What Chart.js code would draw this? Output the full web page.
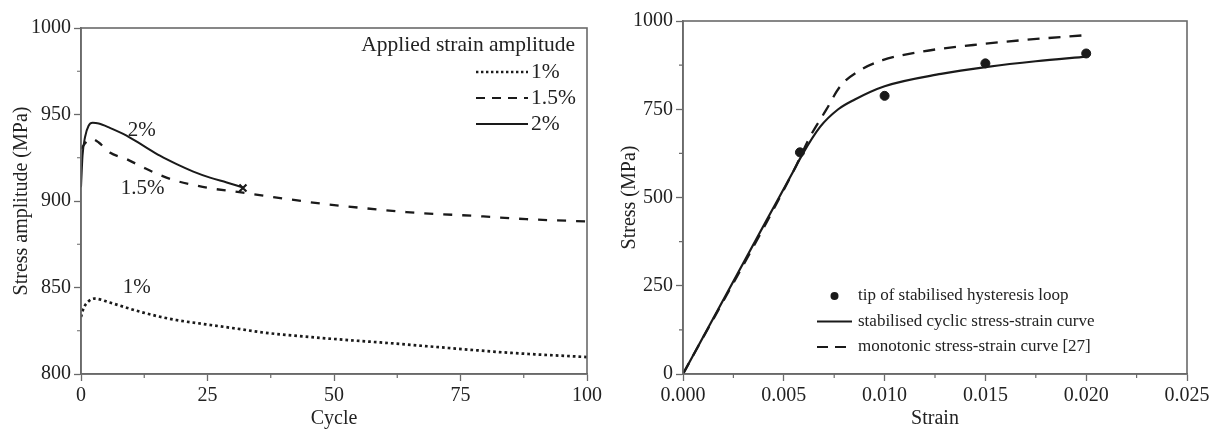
<!DOCTYPE html>
<html>
<head>
<meta charset="utf-8">
<script src="https://cdn.jsdelivr.net/npm/chart.js@4.4.1/dist/chart.umd.min.js"></script>
<style>
  body { margin: 0; background: #fff; }
  canvas { position: absolute; top: 0; }
  #left { left: 0; }
  #right { left: 610px; }
</style>
</head>
<body>
<canvas id="left" width="610" height="433"></canvas>
<canvas id="right" width="607" height="433"></canvas>
<script>
// left panel: stress amplitude vs cycle
const cyc1  = [0, 0.5, 1.5, 2.6, 5.7, 9, 12.3, 15.6, 18.8, 24.7, 30.6, 36.5, 41.8, 49.7, 62, 74, 85, 100];
const amp1  = [833, 838, 842, 843.6, 841.3, 838.3, 835.5, 833.1, 831.2, 828.7, 826.3, 823.8, 822.3, 820.3, 817.6, 814.7, 812.2, 809.8];
const cyc15 = [0, 1, 2, 3.5, 5.7, 9, 12.3, 15.6, 18.9, 22.2, 25.5, 32, 38.7, 48.5, 51.8, 64.3, 79.5, 88, 100];
const amp15 = [930, 934, 936, 933.8, 928, 924.2, 919.4, 915, 911.6, 909.3, 907.4, 904.8, 902, 898.1, 897.1, 893.6, 891.1, 889.5, 888.2];
const cyc2  = [0, 0.3, 0.8, 1.5, 2.3, 3.5, 5.7, 9, 12.3, 15.6, 18.9, 22.2, 25.5, 28.8, 32];
const amp2  = [908, 926, 937, 943.5, 945.2, 944.8, 942.3, 937.8, 932, 926.2, 921.3, 917, 913.5, 910.7, 907.8];
const failCycle = 32, failStress = 907.5;
const cycleMinor  = [12.5, 37.5, 62.5, 87.5];
const ampMinor    = [825, 875, 925, 975];

// right panel: stress vs strain
const strainCyc  = [0, 0.00415, 0.0055, 0.0059, 0.0068, 0.0077, 0.0085, 0.0100, 0.0128, 0.0151, 0.0175, 0.020];
const stressCyc  = [0, 436, 577, 620, 700, 750, 777, 815, 850, 870, 886, 899];
const strainMono = [0, 0.0055, 0.0063, 0.0071, 0.0078, 0.0088, 0.0099, 0.0118, 0.0144, 0.0169, 0.020];
const stressMono = [0, 577, 672, 748, 815, 861, 889, 913, 932, 946, 960];
const strainTip  = [0.0058, 0.010, 0.015, 0.020];
const stressTip  = [628, 788, 880, 908];
const strainMinor = [0.0025, 0.0075, 0.0125, 0.0175, 0.0225];
const stressMinor = [125, 375, 625, 875];

const INK = '#1a1a1a';
const AXIS = '#6a6a6a';
const SERIF = "'Liberation Serif', 'Times New Roman', serif";

Chart.defaults.font.family = SERIF;
Chart.defaults.font.size = 20;
Chart.defaults.color = '#222';

const pts = (xs, ys) => xs.map((x, i) => ({ x, y: ys[i] }));

const frame = {
  id: 'frame',
  afterDraw(chart) {
    const { ctx, chartArea: a } = chart;
    ctx.save();
    ctx.strokeStyle = AXIS;
    ctx.lineWidth = 1.6;
    ctx.strokeRect(a.left, a.top, a.right - a.left, a.bottom - a.top);
    ctx.restore();
  }
};

const minorTicks = {
  id: 'minorTicks',
  afterDraw(chart, args, opts) {
    const { ctx, chartArea: a, scales } = chart;
    ctx.save();
    ctx.strokeStyle = AXIS;
    ctx.lineWidth = 1.2;
    ctx.beginPath();
    (opts.x || []).forEach(v => {
      const px = scales.x.getPixelForValue(v);
      ctx.moveTo(px, a.bottom); ctx.lineTo(px, a.bottom + 4);
    });
    (opts.y || []).forEach(v => {
      const py = scales.y.getPixelForValue(v);
      ctx.moveTo(a.left, py); ctx.lineTo(a.left - 4, py);
    });
    ctx.stroke();
    ctx.restore();
  }
};

// curve labels in data coordinates + hand placed legend
const notes = {
  id: 'notes',
  afterDraw(chart, args, opts) {
    const { ctx, chartArea: a, scales } = chart;
    ctx.save();
    ctx.fillStyle = '#222';
    ctx.textBaseline = 'middle';
    (opts.labels || []).forEach(l => {
      ctx.font = opts.font;
      ctx.textAlign = 'center';
      ctx.fillText(l.text, scales.x.getPixelForValue(l.x), scales.y.getPixelForValue(l.y));
    });
    const lg = opts.legend;
    if (lg) {
      ctx.font = lg.font;
      const x0 = lg.fromRight ? a.right - lg.x : a.left + lg.x;
      const y0 = lg.fromBottom ? a.bottom - lg.y : a.top + lg.y;
      if (lg.title) {
        ctx.textAlign = 'right';
        ctx.fillText(lg.title, a.right - lg.titleRight, a.top + lg.titleY);
      }
      lg.items.forEach((it, i) => {
        const y = y0 + i * lg.gap;
        ctx.strokeStyle = INK;
        ctx.fillStyle = INK;
        if (it.dot) {
          ctx.beginPath();
          ctx.arc(x0 + lg.len / 2, y, 4, 0, Math.PI * 2);
          ctx.fill();
        } else {
          ctx.lineWidth = it.width;
          ctx.setLineDash(it.dash || []);
          ctx.beginPath();
          ctx.moveTo(x0, y); ctx.lineTo(x0 + lg.len, y);
          ctx.stroke();
          ctx.setLineDash([]);
        }
        ctx.fillStyle = '#222';
        ctx.textAlign = 'left';
        ctx.fillText(it.text, x0 + lg.len + lg.textGap, y);
      });
    }
    ctx.restore();
  }
};

function axis(min, max, step, title, fmt, fit, pad) {
  return {
    type: 'linear', min, max,
    ticks: { stepSize: step, padding: 3, color: '#222', callback: fmt },
    grid: { drawOnChartArea: false, tickLength: 7, color: AXIS, tickWidth: 1.3 },
    border: { color: AXIS, width: 1.6 },
    title: { display: true, text: title, color: '#222', padding: pad },
    afterFit: fit
  };
}

const leftX = axis(0, 100, 25, 'Cycle', v => String(v), s => { s.height = 59; }, { top: 0, bottom: 2 });
const leftY = axis(800, 1000, 50, 'Stress amplitude (MPa)', v => String(v), s => { s.width = 81; }, { top: 10, bottom: 0 });

new Chart(document.getElementById('left'), {
  type: 'line',
  data: {
    datasets: [
      { label: '1%', data: pts(cyc1, amp1), borderColor: INK, borderWidth: 2.7, borderDash: [2.7, 3],
        pointRadius: 0, cubicInterpolationMode: 'monotone' },
      { label: '1.5%', data: pts(cyc15, amp15), borderColor: INK, borderWidth: 2.3, borderDash: [9, 10],
        pointRadius: 0, cubicInterpolationMode: 'monotone' },
      { label: '2%', data: pts(cyc2, amp2), borderColor: INK, borderWidth: 2,
        pointRadius: 0, cubicInterpolationMode: 'monotone' },
      { label: 'failure', data: [{ x: failCycle, y: failStress }], showLine: false, pointStyle: 'crossRot',
        pointRadius: 5, pointBorderWidth: 2.2, borderColor: INK }
    ]
  },
  options: {
    responsive: false, animation: false, events: [],
    layout: { padding: { top: 28, right: 23, left: 0, bottom: 0 } },
    scales: { x: leftX, y: leftY },
    plugins: {
      legend: { display: false }, tooltip: { enabled: false },
      minorTicks: { x: cycleMinor, y: ampMinor },
      notes: {
        font: '21px ' + SERIF,
        labels: [
          { text: '2%', x: 12, y: 941 },
          { text: '1.5%', x: 12.2, y: 907.5 },
          { text: '1%', x: 11, y: 850 }
        ],
        legend: {
          font: '21.5px ' + SERIF, title: 'Applied strain amplitude', titleRight: 12, titleY: 17,
          fromRight: true, x: 111, y: 44, gap: 26, len: 52, textGap: 3,
          items: [
            { text: '1%', width: 2.4, dash: [2.4, 2.6] },
            { text: '1.5%', width: 2.2, dash: [9, 7] },
            { text: '2%', width: 2 }
          ]
        }
      }
    }
  },
  plugins: [frame, minorTicks, notes]
});

const rightX = axis(0, 0.025, 0.005, 'Strain', v => v.toFixed(3), s => { s.height = 59; }, { top: 0, bottom: 2 });
const rightY = axis(0, 1000, 250, 'Stress (MPa)', v => String(v), s => { s.width = 73; }, { top: 8, bottom: 0 });

new Chart(document.getElementById('right'), {
  type: 'line',
  data: {
    datasets: [
      { label: 'tip', data: pts(strainTip, stressTip), showLine: false, pointRadius: 4.5,
        backgroundColor: INK, borderColor: INK },
      { label: 'cyclic', data: pts(strainCyc, stressCyc), borderColor: INK, borderWidth: 2.2,
        pointRadius: 0, cubicInterpolationMode: 'monotone' },
      { label: 'mono', data: pts(strainMono, stressMono), borderColor: INK, borderWidth: 2.3,
        borderDash: [12, 9], pointRadius: 0, cubicInterpolationMode: 'monotone' }
    ]
  },
  options: {
    responsive: false, animation: false, events: [],
    layout: { padding: { top: 21, right: 30, left: 0, bottom: 0 } },
    scales: { x: rightX, y: rightY },
    plugins: {
      legend: { display: false }, tooltip: { enabled: false },
      minorTicks: { x: strainMinor, y: stressMinor },
      notes: {
        font: '17px ' + SERIF,
        labels: [],
        legend: {
          font: '17px ' + SERIF, fromBottom: true, x: 134, y: 78, gap: 25.5, len: 35, textGap: 6,
          items: [
            { text: 'tip of stabilised hysteresis loop', dot: true },
            { text: 'stabilised cyclic stress-strain curve', width: 2 },
            { text: 'monotonic stress-strain curve [27]', width: 2.2, dash: [11, 7] }
          ]
        }
      }
    }
  },
  plugins: [frame, minorTicks, notes]
});
</script>
</body>
</html>
